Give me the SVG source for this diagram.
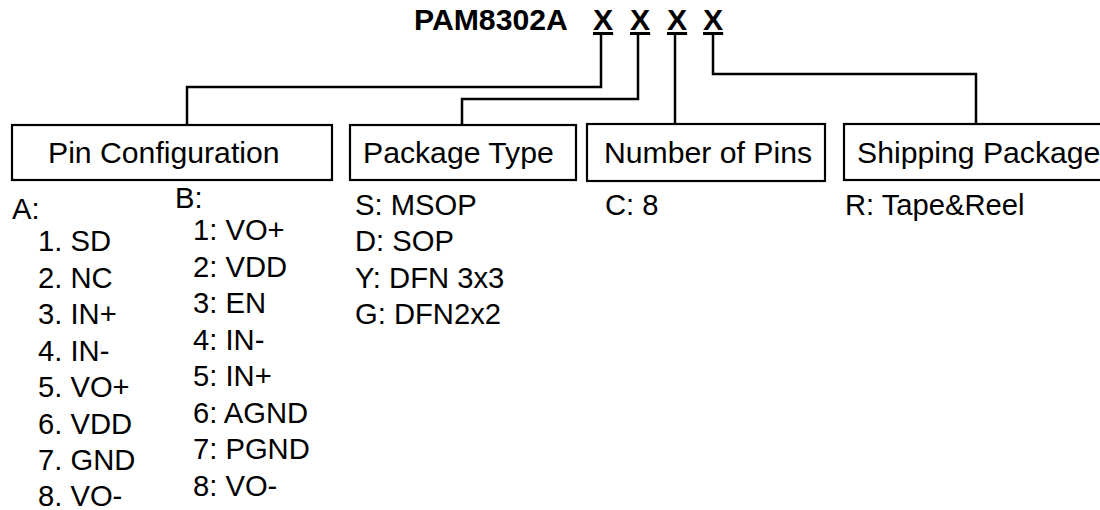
<svg xmlns="http://www.w3.org/2000/svg" width="1100" height="510" viewBox="0 0 1100 510">
<style>
.t{font-family:"Liberation Sans",Arial,sans-serif;fill:#000}
.title{font-size:30.2px;font-weight:bold}
.h{font-size:30.2px}
.l{font-size:29.2px}
.box{fill:#fff;stroke:#000;stroke-width:2.2}
.c{fill:none;stroke:#000;stroke-width:2.5}
</style>
<rect width="1100" height="510" fill="#fff"/>
<g id="title">
<text class="t title" x="414" y="30">PAM8302A</text>
<text class="t title" x="593" y="30" text-decoration="underline">X</text>
<text class="t title" x="630" y="30" text-decoration="underline">X</text>
<text class="t title" x="667" y="30" text-decoration="underline">X</text>
<text class="t title" x="703" y="30" text-decoration="underline">X</text>
</g>
<g id="connectors">
<polyline class="c" points="601,35 601,87 187,87 187,125"/>
<polyline class="c" points="638,35 638,99 462,99 462,125"/>
<polyline class="c" points="675,35 675,124"/>
<polyline class="c" points="713,35 713,74 976,74 976,124"/>
</g>
<g id="pin-configuration">
<rect class="box" x="12" y="125" width="320" height="55"/>
<text class="t h" x="48" y="163">Pin Configuration</text>
<text class="t l" x="12" y="219">A:</text>
<text class="t l" x="38" y="251">1. SD</text>
<text class="t l" x="38" y="287.5">2. NC</text>
<text class="t l" x="38" y="324">3. IN+</text>
<text class="t l" x="38" y="360.5">4. IN-</text>
<text class="t l" x="38" y="397">5. VO+</text>
<text class="t l" x="38" y="433.5">6. VDD</text>
<text class="t l" x="38" y="470">7. GND</text>
<text class="t l" x="38" y="506">8. VO-</text>
<text class="t l" x="175" y="208">B:</text>
<text class="t l" x="193" y="240">1: VO+</text>
<text class="t l" x="193" y="276.5">2: VDD</text>
<text class="t l" x="193" y="313">3: EN</text>
<text class="t l" x="193" y="349.5">4: IN-</text>
<text class="t l" x="193" y="386">5: IN+</text>
<text class="t l" x="193" y="422.5">6: AGND</text>
<text class="t l" x="193" y="459">7: PGND</text>
<text class="t l" x="193" y="495.5">8: VO-</text>
</g>
<g id="package-type">
<rect class="box" x="350" y="125" width="226" height="55"/>
<text class="t h" x="363" y="163">Package Type</text>
<text class="t l" x="355" y="215">S: MSOP</text>
<text class="t l" x="355" y="251">D: SOP</text>
<text class="t l" x="355" y="287.5">Y: DFN 3x3</text>
<text class="t l" x="355" y="324">G: DFN2x2</text>
</g>
<g id="number-of-pins">
<rect class="box" x="587" y="124" width="238" height="57"/>
<text class="t h" x="604" y="163">Number of Pins</text>
<text class="t l" x="605" y="215">C: 8</text>
</g>
<g id="shipping-package">
<rect class="box" x="844" y="124" width="270" height="56"/>
<text class="t h" x="857" y="163">Shipping Package</text>
<text class="t l" x="845" y="215">R: Tape&amp;Reel</text>
</g>
</svg>
